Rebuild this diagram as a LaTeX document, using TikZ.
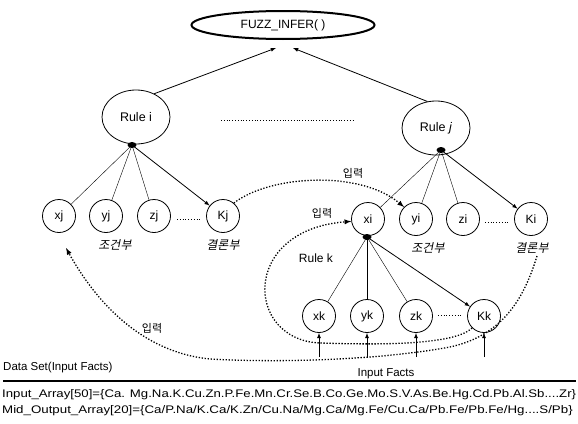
\documentclass[tikz,border=0pt]{standalone}
\usepackage{fontspec}
\setmainfont{Liberation Sans}
\newfontfamily\kr{Noto Sans CJK KR}
\newfontfamily\krit[FakeSlant=0.2]{Noto Sans CJK KR}
\usetikzlibrary{shapes.geometric}

\begin{document}
\begin{tikzpicture}[x=1pt,y=-1pt,
    no/.style={draw, circle, line width=0.8pt, minimum size=33pt, inner sep=0pt, font=\fontsize{12}{12}\selectfont},
    regra/.style={draw, ellipse, line width=0.8pt, minimum width=68pt, minimum height=54pt, inner sep=0pt, font=\fontsize{12.5}{12}\selectfont},
    ponto/.style={fill=black, ellipse, minimum width=9pt, minimum height=6pt, inner sep=0pt},
    seta/.style={-latex, line width=0.8pt},
    fluxo/.style={-latex, line width=1.3pt, dash pattern=on 1.3pt off 1.7pt},
    parte/.style={font=\krit\fontsize{12}{12}\selectfont},
    entrada/.style={font=\kr\fontsize{11}{12}\selectfont}]
    \useasboundingbox (0,0) rectangle (578,423);

    % funcao principal
    \node[draw, ellipse, line width=2pt, minimum width=183pt, minimum height=28pt, font=\fontsize{12}{12}\selectfont] (F) at (283,25) {FUZZ\_INFER( )};
    \coordinate (Fa) at (276,48);
    \coordinate (Fb) at (293,48);

    % regras
    \node[regra] (Ri) at (136,117) {Rule i};
    \node[regra] (Rj) at (436,128) {Rule \textit{j}};
    \draw[dotted, line width=0.8pt] (221,120) -- (355,120);
    \draw[seta] (Ri.52) -- (Fa);
    \draw[seta] (Rj.108) -- (Fb);

    % regra i
    \node[ponto] (Di) at (132,145) {};
    \node[no] (xj) at (59,216) {xj};
    \node[no] (yj) at (106,216) {yj};
    \node[no] (zj) at (154,216) {zj};
    \node[no] (Kj) at (223,216) {Kj};
    \draw (Di.center) -- (xj);
    \draw (Di.center) -- (yj);
    \draw (Di.center) -- (zj);
    \draw[seta] (Di.center) -- (Kj);
    \draw[dotted, line width=0.8pt] (177,219) -- (200,219);
    \node[parte] at (115,245) {조건부};
    \node[parte] at (223,245) {결론부};

    % regra j
    \node[ponto] (Dj) at (441,150) {};
    \node[no] (xi) at (368,219) {xi};
    \node[no] (yi) at (416,219) {yi};
    \node[no] (zi) at (463,219) {zi};
    \node[no] (Ki) at (531,219) {Ki};
    \draw (Dj.center) -- (xi);
    \draw (Dj.center) -- (yi);
    \draw (Dj.center) -- (zi);
    \draw[seta] (Dj.center) -- (Ki);
    \draw[dotted, line width=0.8pt] (485,222) -- (510,222);
    \node[parte] at (428,248) {조건부};
    \node[parte] at (532,248) {결론부};

    % regra k
    \node[ponto] (Dk) at (367,237) {};
    \node[font=\fontsize{12}{12}\selectfont] (Rk) at (316,258) {Rule k};
    \node[no] (xk) at (319,316) {xk};
    \node[no] (yk) at (367,316) {yk};
    \node[no] (zk) at (416,316) {zk};
    \node[no] (Kk) at (484,316) {Kk};
    \draw (Dk.center) -- (xk);
    \draw (Dk.center) -- (yk);
    \draw (Dk.center) -- (zk);
    \draw[seta] (Dk.center) -- (Kk);
    \draw[dotted, line width=0.8pt] (438,315) -- (462,315);

    % fatos de entrada
    \foreach \n in {xk,yk,zk,Kk}
      \draw[seta] (\n |- 0,357) -- (\n);
    \node[font=\fontsize{11.5}{12}\selectfont] (IF) at (386,374) {Input Facts};

    % ligacoes pontilhadas
    \coordinate (Ks) at (537,256);
    \coordinate (Xe) at (66,248);
    \draw[fluxo] (Kj.50) .. controls (270,175) and (360,170) .. (yi.135);
    \draw[fluxo] (Kk.225) .. controls (455,345) and (380,345) .. (320,343)
                 .. controls (245,340) and (240,230) .. (xi.188);
    \draw[fluxo] (Ks) .. controls (525,295) and (505,335) .. (450,347)
                 .. controls (380,360) and (280,363) .. (210,359)
                 .. controls (140,352) and (95,300) .. (Xe);
    \node[entrada] at (353,173) {입력};
    \node[entrada] at (322,213) {입력};
    \node[entrada] at (152,328) {입력};

    % conjunto de dados
    \node[anchor=west, inner sep=0pt, font=\fontsize{11.5}{12}\selectfont] (DS) at (3,368) {Data Set(Input Facts)};
    \draw[line width=1.6pt] (3,381) -- (576,381);
    \node[anchor=west, inner sep=0pt, font=\fontsize{11}{12}\selectfont] (IA) at (2,395) {\scalebox{1.2}[1]{Input\_Array[50]=\{Ca. Mg.Na.K.Cu.Zn.P.Fe.Mn.Cr.Se.B.Co.Ge.Mo.S.V.As.Be.Hg.Cd.Pb.Al.Sb....Zr\}}};
    \node[anchor=west, inner sep=0pt, font=\fontsize{11}{12}\selectfont] (MA) at (2,411) {\scalebox{1.21}[1]{Mid\_Output\_Array[20]=\{Ca/P.Na/K.Ca/K.Zn/Cu.Na/Mg.Ca/Mg.Fe/Cu.Ca/Pb.Fe/Pb.Fe/Hg....S/Pb\}}};
  \end{tikzpicture}
\end{document}
